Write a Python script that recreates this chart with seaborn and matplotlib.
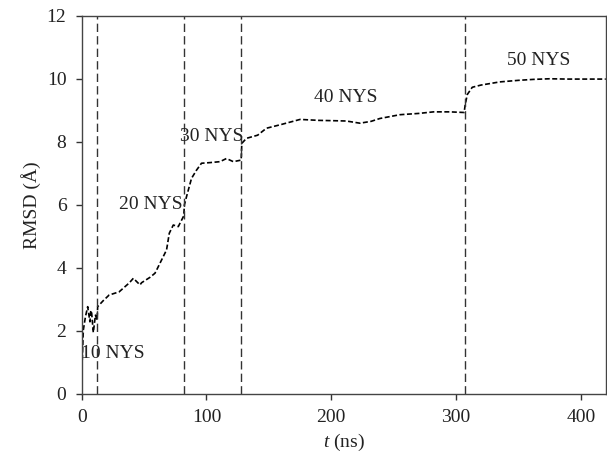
import numpy as np
import pandas as pd
import matplotlib
matplotlib.use("Agg")
import matplotlib.pyplot as plt
import seaborn as sns

# RMSD trace
t_ns = [0, 1.3, 3, 4.8, 5.6, 6.6, 7.3, 8, 9.3, 11, 12.3, 12.8, 17, 22, 30, 38,
        41.4, 46.7, 48, 54.7, 58.7, 60, 64, 68, 70.2, 73.4, 77.4, 81.4, 81.9,
        82.3, 84, 88, 92, 96, 102.8, 110.8, 116, 121.5, 127.8, 128.3, 132, 141,
        148, 160, 175, 190, 201.6, 212, 223, 232, 239, 255, 270, 282, 295,
        306.5, 307.3, 309, 313, 320, 335, 350, 362, 375, 389, 405, 420]
rmsd = [0.6, 2.03, 2.45, 2.77, 2.55, 2.29, 2.65, 2.56, 1.95, 2.5, 2.35, 2.77,
        2.95, 3.14, 3.24, 3.52, 3.67, 3.46, 3.53, 3.70, 3.83, 3.93, 4.25, 4.57,
        5.10, 5.36, 5.31, 5.62, 5.73, 6.0, 6.26, 6.84, 7.10, 7.32, 7.34, 7.37,
        7.47, 7.37, 7.42, 7.95, 8.11, 8.21, 8.43, 8.55, 8.71, 8.68, 8.67, 8.66,
        8.59, 8.65, 8.74, 8.86, 8.90, 8.95, 8.95, 8.93, 9.17, 9.50, 9.73, 9.80,
        9.90, 9.95, 9.98, 10.0, 9.99, 9.99, 9.99]

# insertion times (vertical dashed lines) and labels
insert_t = [12.5, 82, 128, 307]
label_text = ["10 NYS", "20 NYS", "30 NYS", "40 NYS", "50 NYS"]
label_t = [25, 55, 104, 212, 366]
label_y = [1.3, 6.0, 8.16, 9.4, 10.58]

x_ticks = [0, 100, 200, 300, 400]
y_ticks = [0, 2, 4, 6, 8, 10, 12]

sns.set_theme(style="ticks")
plt.rcParams["font.family"] = ["Liberation Serif", "DejaVu Serif"]
plt.rcParams["mathtext.fontset"] = "custom"
plt.rcParams["mathtext.it"] = "Liberation Serif:italic"
plt.rcParams["mathtext.rm"] = "Liberation Serif"

df = pd.DataFrame({"t": t_ns, "rmsd": rmsd})

fig = plt.figure(figsize=(6.07, 4.57), dpi=100)
ax = fig.add_axes([0.1346, 0.1379, 0.8634, 0.8277])

sns.lineplot(data=df, x="t", y="rmsd", ax=ax, color="black",
             linewidth=1.2, linestyle=(0, (3, 1.5)), sort=False)

for xv in insert_t:
    ax.axvline(xv, color="#333333", linewidth=1.0, linestyle=(0, (6, 3)))

for txt, xt, yt in zip(label_text, label_t, label_y):
    ax.text(xt, yt, txt, ha="center", va="center", fontsize=14, color="#222222")

ax.set_xlim(0, 420)
ax.set_ylim(0, 12)
ax.set_xticks(x_ticks)
ax.set_yticks(y_ticks)
ax.set_xlabel("$t$ (ns)", fontsize=14, color="#222222")
ax.set_ylabel("RMSD (Å)", fontsize=14, color="#222222")
ax.tick_params(axis="both", direction="out", length=4, width=1,
               labelsize=14, pad=7, colors="#333333", labelcolor="#222222")
for s in ax.spines.values():
    s.set_visible(True)
    s.set_color("#444444")
    s.set_linewidth(1.0)

fig.savefig("out.png", dpi=100)
